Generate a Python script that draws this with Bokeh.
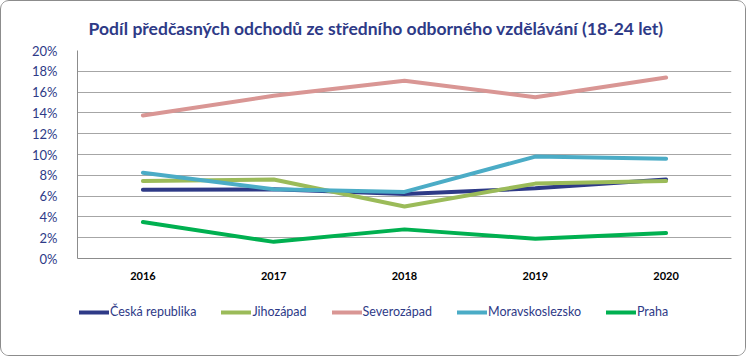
from bokeh.plotting import figure
from bokeh.layouts import column
from bokeh.models import (FactorRange, Range1d, FixedTicker, PrintfTickFormatter,
                          Legend, LegendItem, Title)
from bokeh.embed import file_html
from bokeh.resources import INLINE

years = ["2016", "2017", "2018", "2019", "2020"]
ceska = [6.6, 6.65, 6.2, 6.75, 7.6]
jihozapad = [7.45, 7.6, 5.0, 7.2, 7.45]
severozapad = [13.75, 15.65, 17.1, 15.5, 17.4]
moravskoslezsko = [8.25, 6.65, 6.4, 9.8, 9.6]
praha = [3.5, 1.6, 2.8, 1.9, 2.45]
series_names = ["Česká republika", "Jihozápad", "Severozápad", "Moravskoslezsko", "Praha"]
series_values = [ceska, jihozapad, severozapad, moravskoslezsko, praha]
colors = ["#2E3A87", "#9BBB59", "#D99694", "#4BACC6", "#00B050"]
yticks = list(range(0, 21, 2))

p = figure(width=744, height=285, x_range=FactorRange(*years), y_range=Range1d(0, 20),
           output_backend="svg", toolbar_location=None,
           min_border_left=76, min_border_right=14, min_border_top=49, min_border_bottom=28)
p.x_range.range_padding = 0
p.outline_line_color = None
p.background_fill_color = "white"
p.border_fill_color = "white"

p.title = Title(text="Podíl předčasných odchodů ze středního odborného vzdělávání (18-24 let)",
                align="left", offset=11, text_font="Lato", text_font_size="17.5px",
                text_font_style="bold", text_color="#2E3A87", standoff=24)

for name, vals, c in zip(series_names, series_values, colors):
    p.line(years, vals, line_color=c, line_width=4, line_cap="round")

p.yaxis.ticker = FixedTicker(ticks=yticks)
p.yaxis.formatter = PrintfTickFormatter(format="%d%%")
p.yaxis.major_label_text_font = "Lato"
p.yaxis.major_label_text_font_size = "13px"
p.yaxis.major_label_text_color = "#2E3A87"
p.yaxis.major_tick_line_color = None
p.yaxis.minor_tick_line_color = None
p.yaxis.axis_line_color = "#8C8C8C"
p.yaxis.major_label_standoff = 14

p.xaxis.major_label_text_font = "Lato"
p.xaxis.major_label_text_font_size = "11px"
p.xaxis.major_label_text_font_style = "bold"
p.xaxis.major_label_text_color = "#000000"
p.xaxis.major_tick_line_color = None
p.xaxis.axis_line_color = "#8C8C8C"
p.xaxis.major_label_standoff = 7

p.xgrid.grid_line_color = None
p.ygrid.grid_line_color = "#A6A6A6"
p.ygrid.grid_line_width = 1

# legend panel (series drawn out of view; only the legend shows)
q = figure(width=744, height=69, x_range=FactorRange(*years), y_range=Range1d(100, 101),
           output_backend="svg", toolbar_location=None, min_border=0)
q.axis.visible = False
q.grid.visible = False
q.outline_line_color = None
q.border_fill_color = "white"
items = []
for name, vals, c in zip(series_names, series_values, colors):
    r = q.line(years, vals, line_color=c, line_width=4, line_cap="round")
    items.append(LegendItem(label=name, renderers=[r]))

legend = Legend(items=items, orientation="horizontal", location=(2, 36),
                glyph_width=30, glyph_height=10, label_standoff=1, spacing=25,
                label_text_font="Lato", label_text_font_size="12.5px",
                label_text_color="#2E3A87", border_line_color=None,
                background_fill_alpha=0, margin=0, padding=0)
q.add_layout(legend)

layout = column(p, q, spacing=0,
                styles={"border": "1px solid #8C8C8C", "border-radius": "9px",
                        "overflow": "hidden", "background-color": "white"})

open("out.html", "w").write(file_html(layout, INLINE))
